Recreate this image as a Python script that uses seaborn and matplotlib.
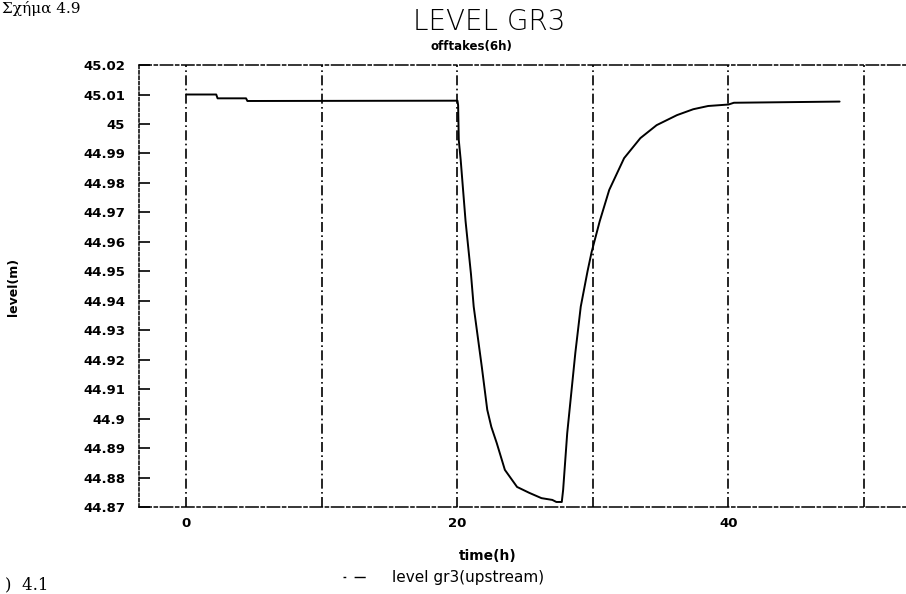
import matplotlib
matplotlib.use("Agg")
import matplotlib.pyplot as plt
from matplotlib.lines import Line2D
import seaborn as sns
import pandas as pd

# Water level at GR3 (upstream) over the simulation, offtakes closed for 6 h
time_h = [0.0, 2.2, 2.3, 4.4, 4.5, 20.0, 20.05, 20.1, 20.24, 20.6, 21.0, 21.2,
          21.8, 22.2, 22.5, 22.9, 23.5, 24.4, 25.3, 26.2, 27.0, 27.3, 27.7,
          27.8, 28.1, 28.7, 29.1, 29.6, 29.9, 30.5, 31.2, 32.3, 33.5, 34.7,
          36.2, 37.4, 38.5, 40.0, 40.4, 48.2]
level_m = [45.0100, 45.0100, 45.0087, 45.0087, 45.0078, 45.0079, 45.0064,
           44.9945, 44.9878, 44.9670, 44.9490, 44.9380, 44.9175, 44.9030,
           44.8972, 44.8917, 44.8826, 44.8768, 44.8748, 44.8730, 44.8724,
           44.8717, 44.8717, 44.8758, 44.8950, 44.9223, 44.9380, 44.9500,
           44.9565, 44.9670, 44.9776, 44.9884, 44.9952, 44.9996, 45.0030,
           45.0050, 45.0061, 45.0066, 45.0072, 45.0076]

y_ticks = [44.87, 44.88, 44.89, 44.90, 44.91, 44.92, 44.93, 44.94, 44.95,
           44.96, 44.97, 44.98, 44.99, 45.00, 45.01, 45.02]
y_tick_labels = ["44.87", "44.88", "44.89", "44.9", "44.91", "44.92", "44.93",
                 "44.94", "44.95", "44.96", "44.97", "44.98", "44.99", "45",
                 "45.01", "45.02"]
x_major = [0, 20, 40]
x_grid = [0, 10, 20, 30, 40, 50]

df = pd.DataFrame({"time(h)": time_h, "level(m)": level_m})

sns.set_theme(style="white")
plt.rcParams["font.family"] = ["DejaVu Sans"]
plt.rcParams.update({"text.color": "black", "axes.labelcolor": "black",
                     "xtick.color": "black", "ytick.color": "black"})

fig = plt.figure(figsize=(9.06, 5.94), dpi=100)
ax = fig.add_axes([0.1534, 0.1465, 0.875, 0.744])

sns.lineplot(data=df, x="time(h)", y="level(m)", ax=ax, color="black",
             linewidth=1.4, sort=False, estimator=None)

ax.set_xlim(-3.5, 55)
ax.set_ylim(44.87, 45.02)

# vertical reference lines every 10 h
for xv in x_grid:
    ax.axvline(xv, color="black", linestyle=(0, (6, 2, 1, 2)), linewidth=1.2,
               zorder=1)

ax.set_yticks(y_ticks)
ax.set_yticklabels(y_tick_labels, fontsize=9.5, fontweight="bold")
ax.set_xticks(x_major)
ax.set_xticklabels([str(v) for v in x_major], fontsize=9.5, fontweight="bold")
ax.tick_params(axis="y", direction="in", length=8, width=1.2, color="black",
               left=True, pad=10)
ax.tick_params(axis="x", length=0, pad=7)

for side in ["top", "bottom"]:
    ax.spines[side].set_linestyle((0, (8, 2, 2, 2)))
    ax.spines[side].set_color("black")
    ax.spines[side].set_linewidth(1.1)
ax.spines["left"].set_linestyle((0, (2, 1.5)))
ax.spines["left"].set_color("black")
ax.spines["left"].set_linewidth(1.1)
ax.spines["right"].set_visible(False)

ax.set_xlabel("")
ax.set_ylabel("")
fig.text(0.015, 0.517, "level(m)", rotation=90, ha="center", va="center",
         fontsize=9, fontweight="bold")
fig.text(0.538, 0.064, "time(h)", ha="center", va="center", fontsize=10,
         fontweight="bold")

fig.text(0.540, 0.963, "LEVEL GR3", ha="center", va="center", fontsize=20,
         fontweight="light")
fig.text(0.520, 0.921, "offtakes(6h)", ha="center", va="center",
         fontsize=8.5, fontweight="bold")

# legend below the axis label
handle = Line2D([], [], color="black", linewidth=1.0,
                linestyle=(0, (2, 6, 8, 40)))
fig.legend([handle], ["level gr3(upstream)"], loc="center",
           bbox_to_anchor=(0.49, 0.027), frameon=False, fontsize=11,
           handlelength=2.6, handletextpad=0.6)

# page text at the edges of the scan
fig.text(0.002, 0.985, "Σχήμα 4.9", ha="left", va="center", fontsize=11,
         family="DejaVu Serif")
fig.text(0.005, 0.015, ")  4.1", ha="left", va="center", fontsize=12,
         family="DejaVu Serif")

fig.savefig("out.png", dpi=100)
